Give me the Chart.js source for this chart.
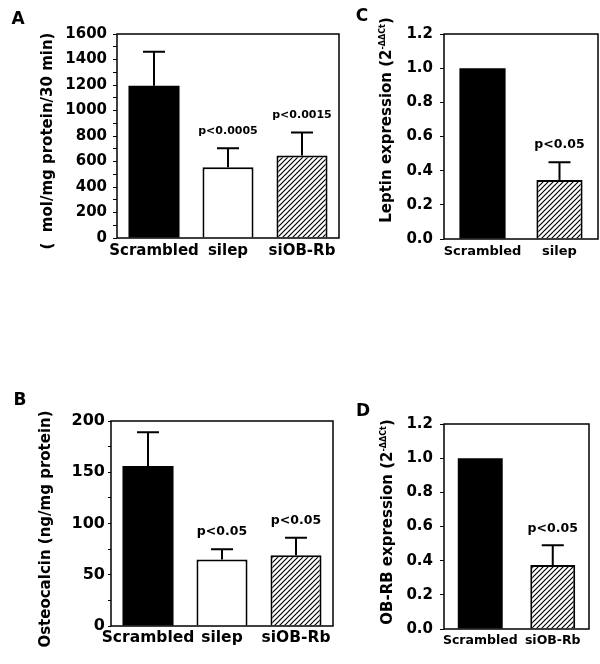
<!DOCTYPE html>
<html><head><meta charset="utf-8">
<script src="https://cdn.jsdelivr.net/npm/chart.js@4.4.0/dist/chart.umd.min.js"></script>
<style>
html,body{margin:0;padding:0;background:#fff;}
#wrap{position:relative;width:600px;height:664px;background:#fff;}
#wrap canvas{position:absolute;left:0;top:0;}
</style></head><body>
<div id="wrap">
<canvas id="cA" width="600" height="664"></canvas>
<canvas id="cB" width="600" height="664"></canvas>
<canvas id="cC" width="600" height="664"></canvas>
<canvas id="cD" width="600" height="664"></canvas>
</div>
<script>
// ---------- data ----------
const categoriesA = ['Scrambled', 'silep', 'siOB-Rb'];
const valuesA = [1195, 555, 648];
const errorsA = [265, 148, 180];
const pLabelsA = ['', 'p<0.0005', 'p<0.0015'];
const yTicksA = [0, 200, 400, 600, 800, 1000, 1200, 1400, 1600];

const categoriesB = ['Scrambled', 'silep', 'siOB-Rb'];
const valuesB = [156, 65, 69];
const errorsB = [33, 10, 17];
const pLabelsB = ['', 'p<0.05', 'p<0.05'];
const yTicksB = [0, 50, 100, 150, 200];

const categoriesC = ['Scrambled', 'silep'];
const valuesC = [1.0, 0.345];
const errorsC = [0, 0.105];
const pLabelsC = ['', 'p<0.05'];
const yTicksC = [0, 0.2, 0.4, 0.6, 0.8, 1.0, 1.2];

const categoriesD = ['Scrambled', 'siOB-Rb'];
const valuesD = [1.0, 0.375];
const errorsD = [0, 0.115];
const pLabelsD = ['', 'p<0.05'];
const yTicksD = [0, 0.2, 0.4, 0.6, 0.8, 1.0, 1.2];

// ---------- styling helpers ----------
const FAM = 'DejaVu Sans';
Chart.defaults.font.family = FAM;
Chart.defaults.font.weight = 'bold';
Chart.defaults.color = '#000';

function makeHatch() {
  const c = document.createElement('canvas');
  c.width = 5; c.height = 5;
  const g = c.getContext('2d');
  g.fillStyle = '#fff'; g.fillRect(0, 0, 5, 5);
  g.strokeStyle = '#000'; g.lineWidth = 1.2;
  g.beginPath();
  g.moveTo(0, 5); g.lineTo(5, 0);
  g.moveTo(-1, 1); g.lineTo(1, -1);
  g.moveTo(4, 6); g.lineTo(6, 4);
  g.stroke();
  return g.createPattern(c, 'repeat');
}
const HATCH = makeHatch();
const FILL = { black: '#000', white: '#fff', hatch: HATCH };

const annot = {
  id: 'annot',
  afterDatasetsDraw(chart, args, o) {
    const ctx = chart.ctx, a = chart.chartArea, ys = chart.scales.y;
    const meta = chart.getDatasetMeta(0);
    ctx.save();
    ctx.strokeStyle = '#000'; ctx.fillStyle = '#000';
    ctx.lineWidth = 1.5;
    ctx.strokeRect(a.left, a.top, a.right - a.left, a.bottom - a.top);
    ctx.lineWidth = 2;
    meta.data.forEach((bar, i) => {
      const err = o.errors[i], v = o.values[i];
      const yt = ys.getPixelForValue(v + err);
      if (err > 0) {
        ctx.beginPath();
        ctx.moveTo(bar.x, bar.y); ctx.lineTo(bar.x, yt);
        ctx.moveTo(bar.x - o.cap / 2, yt); ctx.lineTo(bar.x + o.cap / 2, yt);
        ctx.stroke();
      }
      if (o.pLabels[i]) {
        ctx.font = 'bold ' + o.pFont + 'px ' + FAM;
        ctx.textAlign = 'center'; ctx.textBaseline = 'middle';
        ctx.fillText(o.pLabels[i], bar.x, yt - o.pGap);
      }
    });
    // panel letter
    ctx.font = 'bold 17px ' + FAM;
    ctx.textAlign = 'center'; ctx.textBaseline = 'middle';
    ctx.fillText(o.letter.t, a.left + o.letter.dx, a.top + o.letter.dy);
    // y title (rotated, with optional superscript)
    ctx.translate(a.left + o.title.dx, (a.top + a.bottom) / 2 + o.title.dy);
    ctx.rotate(-Math.PI / 2);
    let total = 0;
    o.title.parts.forEach(p => {
      ctx.font = 'bold ' + (p.sup ? o.title.supSize : o.title.size) + 'px ' + FAM;
      p.w = ctx.measureText(p.t).width; total += p.w;
    });
    let x = -total / 2;
    ctx.textAlign = 'left'; ctx.textBaseline = 'middle';
    o.title.parts.forEach(p => {
      ctx.font = 'bold ' + (p.sup ? o.title.supSize : o.title.size) + 'px ' + FAM;
      ctx.fillText(p.t, x, p.sup ? -4 : 0);
      x += p.w;
    });
    ctx.restore();
  }
};

function makeChart(id, c) {
  const yMin = c.yTicks[0], yMax = c.yTicks[c.yTicks.length - 1];
  new Chart(document.getElementById(id), {
    type: 'bar',
    data: {
      labels: c.categories,
      datasets: [{
        data: c.values,
        backgroundColor: c.fills.map(f => FILL[f]),
        borderColor: '#000',
        borderWidth: c.fills.map(f => f === 'black' ? 0 : 2),
        barPercentage: c.barPct, categoryPercentage: 1
      }]
    },
    options: {
      responsive: false, animation: false,
      layout: { padding: c.padding },
      plugins: {
        legend: { display: false }, tooltip: { enabled: false },
        annot: {
          values: c.values, errors: c.errors, pLabels: c.pLabels,
          cap: 22, pFont: c.pFont, pGap: 17,
          letter: c.letter, title: c.title
        }
      },
      scales: {
        x: {
          offset: true,
          grid: { display: false, drawTicks: false },
          border: { display: false },
          ticks: { autoSkip: false, maxRotation: 0, minRotation: 0, padding: c.xPad,
                   font: { size: c.xFont, weight: 'bold' }, color: '#000' },
          afterFit: s => { s.height = 30; s.paddingLeft = 0; s.paddingRight = 0; }
        },
        y: {
          min: yMin, max: yMax,
          grid: { drawOnChartArea: false, drawTicks: true, tickLength: c.tickLen, color: '#000', lineWidth: 1 },
          border: { display: false },
          ticks: {
            stepSize: c.minorStep, autoSkip: false, padding: c.tickPad,
            font: { size: c.tickFont, weight: 'bold' }, color: '#000',
            callback: v => {
              const t = c.yTicks.find(t => Math.abs(t - v) < 1e-9);
              return t === undefined ? '' : t.toFixed(c.decimals);
            }
          },
          afterFit: s => { s.width = c.yWidth; s.paddingTop = 0; s.paddingBottom = 0; }
        }
      }
    },
    plugins: [annot]
  });
}

makeChart('cA', {
  categories: categoriesA, values: valuesA, errors: errorsA, pLabels: pLabelsA, yTicks: yTicksA,
  fills: ['black', 'white', 'hatch'],
  padding: { left: 0, top: 34, right: 261, bottom: 396 }, yWidth: 117,
  minorStep: 100, decimals: 0, tickFont: 15, tickPad: 6, tickLen: 4,
  xFont: 15, xPad: 4, barPct: 0.69, pFont: 11,
  letter: { t: 'A', dx: -99, dy: -14 },
  title: { parts: [{ t: '(  mol/mg protein/30 min)' }], size: 15, supSize: 8, dx: -69, dy: 5 }
});
makeChart('cB', {
  categories: categoriesB, values: valuesB, errors: errorsB, pLabels: pLabelsB, yTicks: yTicksB,
  fills: ['black', 'white', 'hatch'],
  padding: { left: 0, top: 421, right: 267, bottom: 8 }, yWidth: 111,
  minorStep: 25, decimals: 0, tickFont: 16, tickPad: 3, tickLen: 3,
  xFont: 15.5, xPad: 3, barPct: 0.69, pFont: 12.5,
  letter: { t: 'B', dx: -91, dy: -20 },
  title: { parts: [{ t: 'Osteocalcin (ng/mg protein)' }], size: 15, supSize: 8, dx: -65, dy: 5.5 }
});
makeChart('cC', {
  categories: categoriesC, values: valuesC, errors: errorsC, pLabels: pLabelsC, yTicks: yTicksC,
  fills: ['black', 'hatch'],
  padding: { left: 345, top: 34, right: 2, bottom: 395 }, yWidth: 99,
  minorStep: 0.2, decimals: 1, tickFont: 15, tickPad: 7, tickLen: 4,
  xFont: 13, xPad: 5, barPct: 0.6, pFont: 12.5,
  letter: { t: 'C', dx: -82, dy: -17 },
  title: { parts: [{ t: 'Leptin expression (2' }, { t: '-ΔΔCt', sup: true }, { t: ')' }], size: 15, supSize: 8, dx: -57, dy: -16.5 }
});
makeChart('cD', {
  categories: categoriesD, values: valuesD, errors: errorsD, pLabels: pLabelsD, yTicks: yTicksD,
  fills: ['black', 'hatch'],
  padding: { left: 345, top: 424, right: 11, bottom: 5 }, yWidth: 99,
  minorStep: 0.2, decimals: 1, tickFont: 15, tickPad: 7, tickLen: 4,
  xFont: 12.5, xPad: 4.5, barPct: 0.62, pFont: 12.5,
  letter: { t: 'D', dx: -81, dy: -12 },
  title: { parts: [{ t: 'OB-RB expression (2' }, { t: '-ΔΔCt', sup: true }, { t: ')' }], size: 15, supSize: 8, dx: -56, dy: -4.5 }
});
</script>
</body></html>
